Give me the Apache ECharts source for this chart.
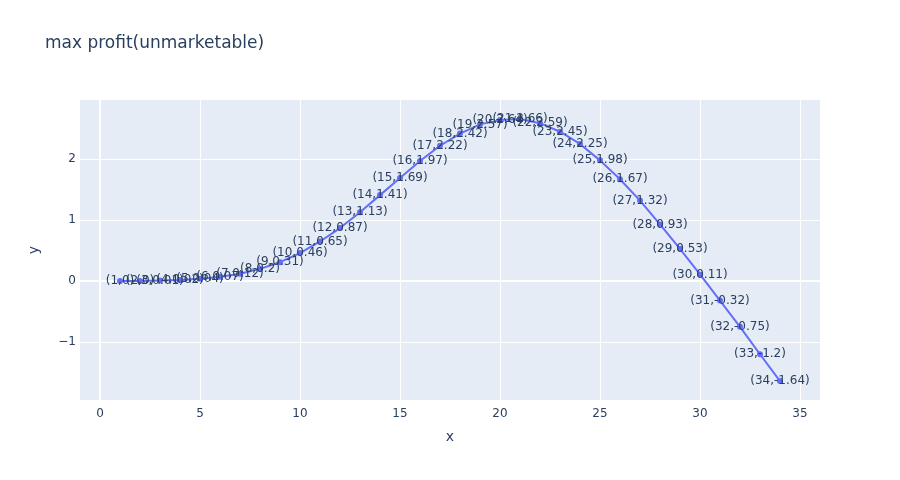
<!DOCTYPE html>
<html>
<head>
<meta charset="utf-8">
<script src="https://cdn.jsdelivr.net/npm/echarts@6/dist/echarts.min.js"></script>
<style>html,body{margin:0;padding:0;background:#fff}#c{width:900px;height:480px}</style>
</head>
<body>
<div id="c"></div>
<script>
const xValues = [1,2,3,4,5,6,7,8,9,10,11,12,13,14,15,16,17,18,19,20,21,22,23,24,25,26,27,28,29,30,31,32,33,34];
const yValues = [0,0,0.01,0.02,0.04,0.07,0.12,0.2,0.31,0.46,0.65,0.87,1.13,1.41,1.69,1.97,2.22,2.42,2.57,2.64,2.66,2.59,2.45,2.25,1.98,1.67,1.32,0.93,0.53,0.11,-0.32,-0.75,-1.2,-1.64];
const xTicks = [0,5,10,15,20,25,30,35];
const yTicks = [-1,0,1,2];
const titleText = 'max profit(unmarketable)';

const font = '"DejaVu Sans", Verdana, sans-serif';
const textColor = '#2a3f5f';
const chart = echarts.init(document.getElementById('c'));

const gridLines = [];
xTicks.forEach(v => gridLines.push({xAxis: v, lineStyle: {width: v === 0 ? 2 : 1}}));
yTicks.forEach(v => gridLines.push({yAxis: v, lineStyle: {width: v === 0 ? 2 : 1}}));

chart.setOption({
  animation: false,
  backgroundColor: '#ffffff',
  title: {
    text: titleText, left: 45, top: 35, padding: 0,
    textStyle: {fontFamily: font, fontSize: 17, fontWeight: 'normal', color: textColor}
  },
  grid: {left: 80, right: 80, top: 100, bottom: 80, show: true, backgroundColor: '#E5ECF6', borderWidth: 0},
  xAxis: {
    type: 'value', min: -1, max: 36,
    name: 'x', nameLocation: 'middle', nameGap: 30,
    nameTextStyle: {fontFamily: font, fontSize: 14, color: textColor},
    axisLine: {show: false}, axisTick: {show: false}, splitLine: {show: false},
    axisLabel: {customValues: xTicks, fontFamily: font, fontSize: 12, color: textColor, margin: 8}
  },
  yAxis: {
    type: 'value', min: -1.95, max: 2.97,
    name: 'y', nameLocation: 'middle', nameGap: 39,
    nameTextStyle: {fontFamily: font, fontSize: 14, color: textColor},
    axisLine: {show: false}, axisTick: {show: false}, splitLine: {show: false},
    axisLabel: {customValues: yTicks, fontFamily: font, fontSize: 12, color: textColor, margin: 4,
      formatter: v => String(v).replace('-', '\u2212')}
  },
  series: [
    {
      type: 'line', data: [], z: 1, silent: true,
      markLine: {
        z: 1,
        silent: true, symbol: 'none', animation: false,
        label: {show: false},
        lineStyle: {color: '#ffffff', type: 'solid', width: 1},
        emphasis: {disabled: true},
        data: gridLines
      }
    },
    {
      type: 'line', z: 3,
      data: xValues.map((x, i) => [x, yValues[i]]),
      symbol: 'circle', symbolSize: 6,
      itemStyle: {color: '#636efa'},
      lineStyle: {color: '#636efa', width: 2},
      label: {
        show: true, position: [3, 3], align: 'center', verticalAlign: 'middle',
        fontFamily: font, fontSize: 12, color: textColor,
        textBorderWidth: 0,
        formatter: p => '(' + p.value[0] + ',' + p.value[1] + ')'
      },
      labelLayout: {hideOverlap: false}
    }
  ]
});
</script>
</body>
</html>
